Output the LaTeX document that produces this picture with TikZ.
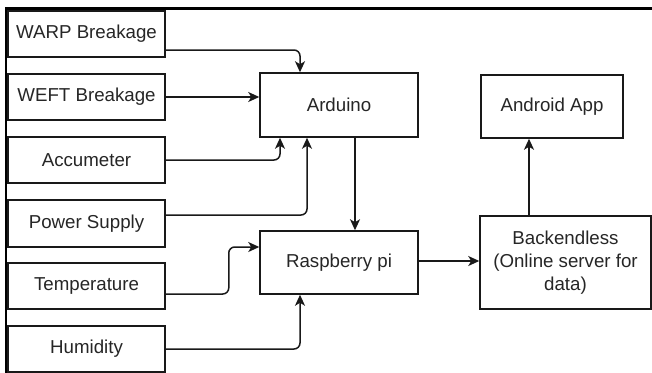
\documentclass[tikz,border=0pt]{standalone}
\usepackage{fontspec}
\setmainfont{Liberation Sans}
\usetikzlibrary{arrows.meta,calc}
\begin{document}
\begin{tikzpicture}[x=1pt,y=-1pt,
  box/.style={draw=black!90,line width=1.5pt,fill=white,inner sep=0pt,align=center,
    text=black!85,font=\fontsize{18.7}{23}\selectfont},
  conn/.style={draw=black!90,line width=1.5pt,rounded corners=6pt,
    -{Stealth[length=11pt,width=10pt,inset=3pt]}}]
\useasboundingbox (0,0) rectangle (652,372);
\begin{scope}
\clip (0,0) rectangle (652,372);
% frame lines
\draw[line width=3pt,black] (5,8) -- (652,8);
\draw[line width=2.5pt,black] (6,8) -- (6,380);
% left column
\node[box,minimum width=157pt,minimum height=46pt] (warp) at (86.5,34) {WARP Breakage};
\node[box,minimum width=157pt,minimum height=46pt] (weft) at (86.5,97) {WEFT Breakage};
\node[box,minimum width=157pt,minimum height=46pt] (acc) at (86.5,160) {Accumeter};
\node[box,minimum width=157pt,minimum height=47pt] (power) at (86.5,223.5) {Power Supply};
\node[box,minimum width=157pt,minimum height=46pt] (temp) at (86.5,286) {Temperature};
\node[box,minimum width=157pt,minimum height=46pt] (hum) at (86.5,349) {Humidity};
% middle
\node[box,minimum width=158pt,minimum height=64pt] (ard) at (339,105) {Arduino};
\node[box,minimum width=158pt,minimum height=63pt] (rpi) at (339,262.5) {Raspberry pi};
% right
\node[box,minimum width=142pt,minimum height=63pt] (app) at (552,106.5) {Android App};
\node[box,minimum width=171pt,minimum height=93pt] (back) at (565.5,262.5) {Backendless\\(Online server for\\data)};
% connectors
\draw[conn] ([yshift=-16pt]warp.east) -| ([xshift=-39pt]ard.north);
\draw[conn] (weft.east) -- (weft.east -| ard.west);
\draw[conn] (acc.east) -| ([xshift=-59pt]ard.south);
\draw[conn] ([yshift=8.5pt]power.east) -| ([xshift=-32pt]ard.south);
\draw[conn] ([xshift=16pt]ard.south) -- ([xshift=16pt]rpi.north);
\draw[conn] ([yshift=-8pt]temp.east) -- ++(63,0) -- ++(0,-47) -- ([yshift=15.5pt]rpi.west);
\draw[conn] (hum.east) -| ([xshift=-39pt]rpi.south);
\draw[conn] ([yshift=1.5pt]rpi.east) -- ([yshift=1.5pt]rpi.east -| back.west);
\draw[conn] ([xshift=-36.5pt]back.north) -- ([xshift=-23pt]app.south);
\end{scope}
\end{tikzpicture}
\end{document}
